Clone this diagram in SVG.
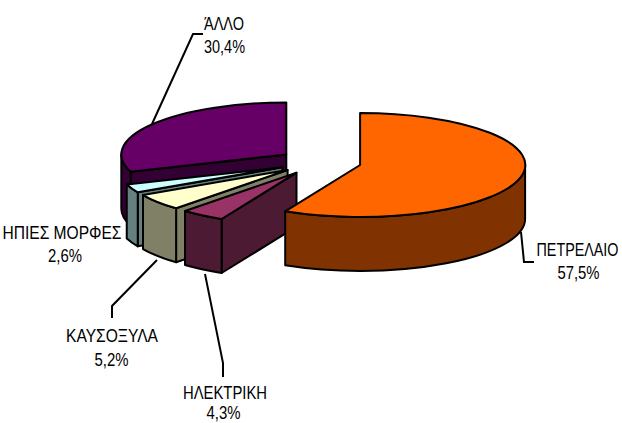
<svg xmlns="http://www.w3.org/2000/svg" width="622" height="423" viewBox="0 0 622 423">
<style>
.s{stroke:#000;stroke-width:2;stroke-linejoin:round}
.t{font-family:"Liberation Sans",Arial,sans-serif;font-size:14.6px;fill:#000;text-anchor:middle}
.ld{fill:none;stroke:#000;stroke-width:2}
</style>
<rect width="622" height="423" fill="#fff"/>
<g id="slice-allo">
<path class="s" fill="#330033" d="M286.3,154.5 L130.7,171.8 L130.7,225.8 L286.3,208.5 Z"/>
<path class="s" fill="#330033" d="M130.7,171.8 A165,52 0 0 1 121.3,154.5 L121.3,208.5 A165,52 0 0 0 130.7,225.8 Z"/>
<path class="s" fill="#660066" d="M286.3,154.5 L130.7,171.8 A165,52 0 0 1 286.3,102.5 Z"/>
</g>
<g id="slice-ipies">
<path class="s" fill="#668080" d="M282.35,167.3 L137.75,192.35 L137.75,246.35 L282.35,221.3 Z"/>
<path class="s" fill="#668080" d="M137.75,192.35 A165,52 0 0 1 126.75,184.57 L126.75,238.57 A165,52 0 0 0 137.75,246.35 Z"/>
<path class="s" fill="#CCFFFF" d="M282.35,167.3 L137.75,192.35 A165,52 0 0 1 126.75,184.57 Z"/>
</g>
<g id="slice-kausoxyla">
<path class="s" fill="#808066" d="M287.6,170 L176.1,208.3 L176.1,262.3 L287.6,224 Z"/>
<path class="s" fill="#808066" d="M176.1,208.3 A165,52 0 0 1 143,195.05 L143,249.05 A165,52 0 0 0 176.1,262.3 Z"/>
<path class="s" fill="#FFFFCC" d="M287.6,170 L176.1,208.3 A165,52 0 0 1 143,195.05 Z"/>
</g>
<g id="slice-ilektriki">
<path class="s" fill="#4D1A33" d="M296.5,172.7 L221.6,219 L221.6,273 L296.5,226.7 Z"/>
<path class="s" fill="#4D1A33" d="M221.6,219 A165,52 0 0 1 185,211 L185,265 A165,52 0 0 0 221.6,273 Z"/>
<path class="s" fill="#993366" d="M296.5,172.7 L221.6,219 A165,52 0 0 1 185,211 Z"/>
</g>
<g id="slice-petrelaio">
<path class="s" fill="#803300" d="M525.1,165 A165,52 0 0 1 285.2,211.3 L285.2,265.3 A165,52 0 0 0 525.1,219 Z"/>
<path class="s" fill="#FF6600" d="M360.1,165 L360.1,113 A165,52 0 1 1 285.2,211.3 Z"/>
</g>
<g id="connectors">
<polyline class="ld" points="203,34 193,34 152,124"/>
<polyline class="ld" points="521,232 524,262 534,262"/>
<polyline class="ld" points="157,260 112,306 112,318"/>
<polyline class="ld" points="205,274 223,363 223,377"/>
</g>
<g id="label-allo" transform="scale(1,1.27)">
<text class="t" x="224" y="23.62" textLength="40" lengthAdjust="spacingAndGlyphs">ΆΛΛΟ</text>
<text class="t" x="224.5" y="41.73" textLength="41" lengthAdjust="spacingAndGlyphs">30,4%</text>
</g>
<g id="label-petrelaio" transform="scale(1,1.27)">
<text class="t" x="577.5" y="201.57" textLength="82" lengthAdjust="spacingAndGlyphs">ΠΕΤΡΕΛΑΙΟ</text>
<text class="t" x="578.5" y="219.69" textLength="42" lengthAdjust="spacingAndGlyphs">57,5%</text>
</g>
<g id="label-ipies" transform="scale(1,1.27)">
<text class="t" x="62" y="188.19" textLength="119" lengthAdjust="spacingAndGlyphs">ΗΠΙΕΣ ΜΟΡΦΕΣ</text>
<text class="t" x="65" y="206.3" textLength="34" lengthAdjust="spacingAndGlyphs">2,6%</text>
</g>
<g id="label-kausoxyla" transform="scale(1,1.27)">
<text class="t" x="112" y="269.29" textLength="92" lengthAdjust="spacingAndGlyphs">ΚΑΥΣΟΞΥΛΑ</text>
<text class="t" x="111.5" y="288.19" textLength="34" lengthAdjust="spacingAndGlyphs">5,2%</text>
</g>
<g id="label-ilektriki" transform="scale(1,1.27)">
<text class="t" x="225" y="314.17" textLength="84" lengthAdjust="spacingAndGlyphs">ΗΛΕΚΤΡΙΚΗ</text>
<text class="t" x="223.5" y="329.92" textLength="34" lengthAdjust="spacingAndGlyphs">4,3%</text>
</g>
</svg>
